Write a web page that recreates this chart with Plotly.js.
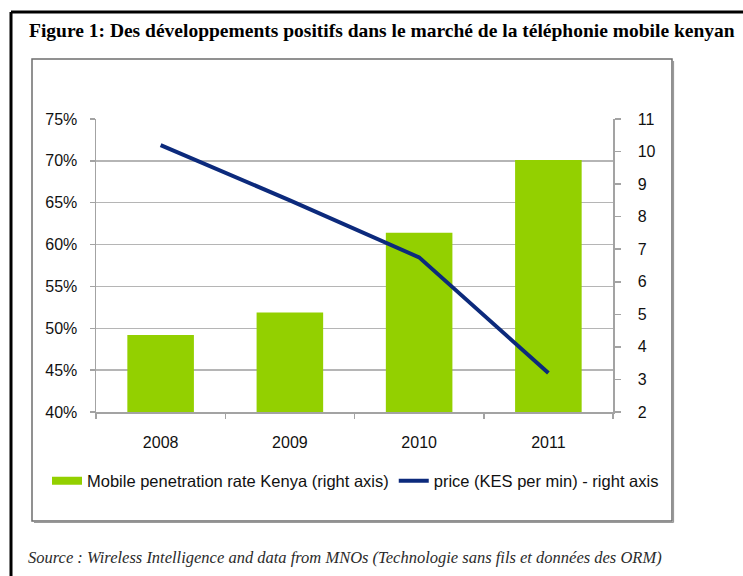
<!DOCTYPE html>
<html>
<head>
<meta charset="utf-8">
<script src="https://cdn.plot.ly/plotly-3.0.1.min.js"></script>
<style>
  html, body { margin: 0; padding: 0; background: #fff; }
  #chart { width: 743px; height: 576px; }
</style>
</head>
<body>
<div id="chart"></div>
<script>
// ---- data ----
const years = ['2008', '2009', '2010', '2011'];
const penetrationRate = [0.492, 0.519, 0.614, 0.701];   // left axis (%)
const pricePerMin = [10.2, 8.5, 6.75, 3.2];              // right axis (KES per min)
const barName = 'Mobile penetration rate Kenya (right axis)';
const lineName = 'price (KES per min) - right axis';
const titleText = 'Figure 1: Des développements positifs dans le marché de la téléphonie mobile kenyan';
const sourceText = 'Source : Wireless Intelligence and data from MNOs (Technologie sans fils et données des ORM)';

// ---- geometry helpers (pixel -> paper) ----
const W = 743, H = 576;
const M = { l: 96, r: 130, t: 119, b: 164 };
const PW = W - M.l - M.r, PH = H - M.t - M.b;
const px = x => (x - M.l) / PW;
const py = y => (H - M.b - y) / PH;

const green = '#93d000';
const navy = '#0c2a7c';
const axisGray = '#a3a3a3';
const tickFont = { family: 'Liberation Sans, Arial, sans-serif', size: 16, color: '#111111' };

const traces = [
  {
    type: 'bar', x: years, y: penetrationRate, yaxis: 'y',
    marker: { color: green }, showlegend: false, hoverinfo: 'skip', width: 0.515
  },
  {
    type: 'scatter', mode: 'lines', x: [null], y: [null], yaxis: 'y',
    name: barName, line: { color: green, width: 8 }, hoverinfo: 'skip'
  },
  {
    type: 'scatter', mode: 'lines', x: years, y: pricePerMin, yaxis: 'y2',
    name: lineName, line: { color: navy, width: 4 }, hoverinfo: 'skip'
  }
];

const layout = {
  width: W, height: H,
  margin: M,
  paper_bgcolor: '#ffffff', plot_bgcolor: '#ffffff',
  showlegend: true,
  xaxis: {
    type: 'category', categoryorder: 'array', categoryarray: years,
    range: [-0.5, 3.5], tickson: 'boundaries',
    ticks: 'outside', ticklen: 5, tickwidth: 1.5, tickcolor: axisGray,
    showline: true, linecolor: axisGray, linewidth: 1.5,
    showgrid: false, zeroline: false,
    tickfont: tickFont, ticklabelstandoff: 15, fixedrange: true
  },
  yaxis: {
    range: [0.40, 0.75], dtick: 0.05, tick0: 0.40, tickformat: '.0%',
    ticks: 'outside', ticklen: 5, tickwidth: 1.5, tickcolor: axisGray,
    showline: true, linecolor: axisGray, linewidth: 1.5,
    showgrid: true, gridcolor: '#b5b5b5', gridwidth: 1.5, zeroline: false,
    tickfont: tickFont, ticklabelstandoff: 9, fixedrange: true
  },
  yaxis2: {
    overlaying: 'y', side: 'right',
    range: [2, 11], dtick: 1, tick0: 2,
    ticks: 'outside', ticklen: 6, tickwidth: 1.5, tickcolor: axisGray,
    showline: true, linecolor: axisGray, linewidth: 1.5,
    showgrid: false, zeroline: false,
    tickfont: tickFont, ticklabelstandoff: 14, fixedrange: true
  },
  legend: {
    orientation: 'h', x: px(47), y: py(481), xanchor: 'left', yanchor: 'middle',
    font: { family: 'Liberation Sans, Arial, sans-serif', size: 16.5, color: '#111111' },
    bgcolor: 'rgba(0,0,0,0)', itemclick: false, itemdoubleclick: false,
    tracegroupgap: 0
  },
  shapes: [
    // outer black frame (top and left edges visible)
    { type: 'line', xref: 'paper', yref: 'paper', x0: px(11), x1: px(800), y0: py(12), y1: py(12),
      line: { color: '#000', width: 3 } },
    { type: 'line', xref: 'paper', yref: 'paper', x0: px(11), x1: px(11), y0: py(12), y1: py(620),
      line: { color: '#000', width: 3 } },
    // inner chart box
    { type: 'rect', xref: 'paper', yref: 'paper', x0: px(32), x1: px(672), y0: py(521), y1: py(59),
      line: { color: '#6e6e6e', width: 1.5 }, layer: 'below' },
    // slight shadow on right and bottom
    { type: 'line', xref: 'paper', yref: 'paper', x0: px(673.5), x1: px(673.5), y0: py(61), y1: py(522.5),
      line: { color: '#9a9a9a', width: 1.2 }, layer: 'below' },
    { type: 'line', xref: 'paper', yref: 'paper', x0: px(34), x1: px(673.5), y0: py(522.5), y1: py(522.5),
      line: { color: '#9a9a9a', width: 1.2 }, layer: 'below' }
  ],
  annotations: [
    { xref: 'paper', yref: 'paper', x: px(27), y: py(31), xanchor: 'left', yanchor: 'middle',
      text: '<b>' + titleText + '</b>', showarrow: false,
      font: { family: 'Liberation Serif, Times New Roman, serif', size: 19.5, color: '#000' } },
    { xref: 'paper', yref: 'paper', x: px(26), y: py(557), xanchor: 'left', yanchor: 'middle',
      text: '<i>' + sourceText + '</i>', showarrow: false,
      font: { family: 'Liberation Serif, Times New Roman, serif', size: 16.5, color: '#2b2b2b' } }
  ]
};

Plotly.newPlot('chart', traces, layout, { displayModeBar: false, staticPlot: true });
</script>
</body>
</html>
